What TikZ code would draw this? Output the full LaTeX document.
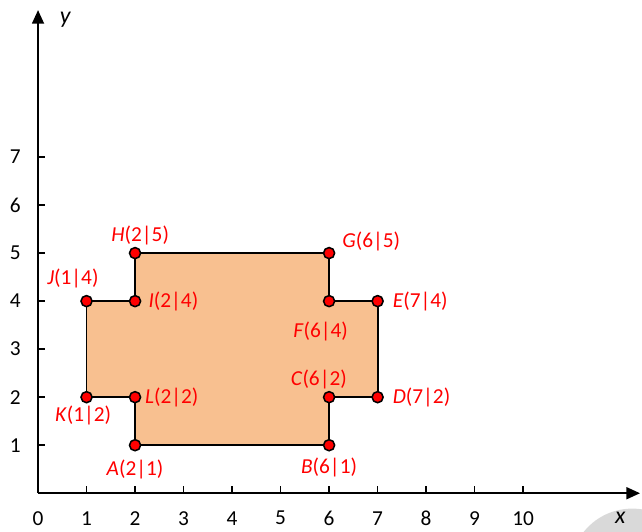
\documentclass[tikz,border=0pt]{standalone}
\usepackage{fontspec}
\setmainfont{Carlito}
\usepackage{tikz}
\usetikzlibrary{arrows.meta, positioning}
\definecolor{areaorange}{RGB}{248, 192, 144}
\definecolor{cornergray}{RGB}{217, 217, 217}
\definecolor{ptred}{RGB}{255, 0, 0}

\tikzset{
  axis/.style={line width=1.1pt, -{Triangle[length=8pt,width=7pt]}},
  tick/.style={line width=1pt},
  num/.style={font=\fontsize{12.5}{14}\selectfont, inner sep=1pt},
  axlab/.style={font=\fontsize{14}{16}\selectfont\itshape, inner sep=1pt},
  pt/.style={circle, draw=black, fill=ptred, line width=0.9pt, inner sep=0pt, minimum size=6.5pt},
  lbl/.style={text=ptred, font=\fontsize{12.5}{14}\selectfont, inner sep=1pt}
}

\begin{document}
\begin{tikzpicture}[x=1cm, y=0.99cm]
  \useasboundingbox (-0.784,-0.79) rectangle (12.45,10.27);
  % gray corner mark
  \fill[cornergray] (12.25,-1.6) circle (1.28);

  % Axes
  \coordinate (O) at (0,0);
  \coordinate (xend) at (12.41,0);
  \coordinate (yend) at (0,10.06);
  \draw[axis] (O) -- (xend);
  \draw[axis] (O) -- (yend);
  \node[axlab] (xlab) at (12.0,-0.52) {x};
  \node[axlab] (ylab) at (0.56,9.85) {y};
  \node[num] (xl0) at (0,-0.52) {0};
  \foreach \i in {1,...,10} {
    \draw[tick] (\i,0) -- (\i,0.15);
    \node[num] (xl\i) at (\i,-0.52) {\i};
  }
  \foreach \j in {1,...,7} {
    \draw[tick] (0,\j) -- (0.15,\j);
    \node[num] (yl\j) at (-0.47,\j) {\j};
  }

  % Figure corners
  \coordinate (A) at (2,1);
  \coordinate (B) at (6,1);
  \coordinate (C) at (6,2);
  \coordinate (D) at (7,2);
  \coordinate (E) at (7,4);
  \coordinate (F) at (6,4);
  \coordinate (G) at (6,5);
  \coordinate (H) at (2,5);
  \coordinate (I) at (2,4);
  \coordinate (J) at (1,4);
  \coordinate (K) at (1,2);
  \coordinate (L) at (2,2);
  \filldraw[fill=areaorange, draw=black, line width=1.1pt, line join=miter]
    (A) -- (B) -- (C) -- (D) -- (E) -- (F) -- (G) -- (H) -- (I) -- (J) -- (K) -- (L) -- cycle;

  % Points
  \foreach \p in {A,B,C,D,E,F,G,H,I,J,K,L}
    \node[pt] (p\p) at (\p) {};

  % Labels
  \node[lbl, below=3.5pt of pA] (tA) {\textit{A}(2|1)};
  \node[lbl, below=2.5pt of pB] (tB) {\textit{B}(6|1)};
  \node[lbl, above=0pt of pC, xshift=-6pt] (tC) {\textit{C}(6|2)};
  \node[lbl, right=4pt of pD] (tD) {\textit{D}(7|2)};
  \node[lbl, right=4pt of pE] (tE) {\textit{E}(7|4)};
  \node[lbl, below=7pt of pF, xshift=-5pt] (tF) {\textit{F}(6|4)};
  \node[lbl, above right=-2.5pt and 4pt of pG] (tG) {\textit{G}(6|5)};
  \node[lbl, above=0pt of pH, xshift=3pt] (tH) {\textit{H}(2|5)};
  \node[lbl, right=3pt of pI] (tI) {\textit{I}(2|4)};
  \node[lbl, above=3pt of pJ, xshift=-8pt] (tJ) {\textit{J}(1|4)};
  \node[lbl, below=0pt of pK, xshift=-2pt] (tK) {\textit{K}(1|2)};
  \node[lbl, right=1pt of pL] (tL) {\textit{L}(2|2)};
\end{tikzpicture}
\end{document}
